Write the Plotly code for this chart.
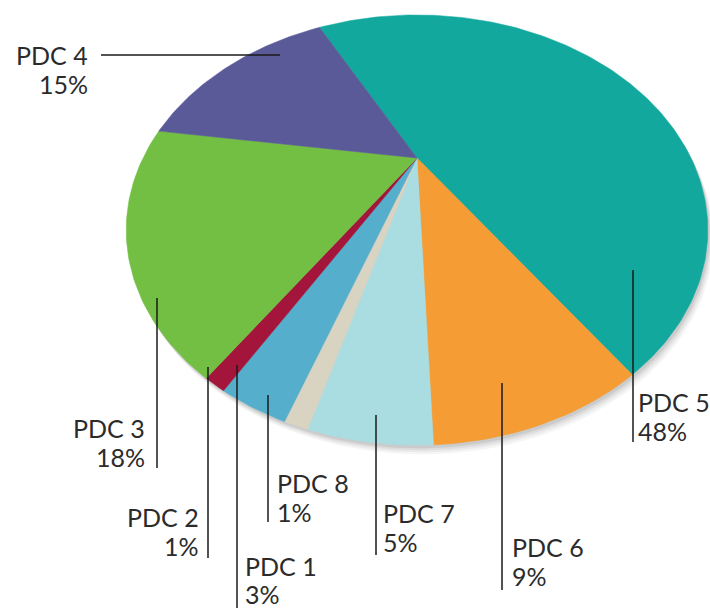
import numpy as np
import plotly.graph_objects as go

# --- data (clockwise order, starting at the PDC 4 / PDC 5 boundary) ---
NAMES = ['PDC 5', 'PDC 6', 'PDC 7', 'PDC 8', 'PDC 1', 'PDC 2', 'PDC 3', 'PDC 4']
SHARES = [48, 9, 5, 1, 3, 1, 18, 15]

COLORS = ['#13A89E', '#F59C34', '#A9DDE2', '#D9D4C2',
          '#55AECB', '#A3153A', '#72BF44', '#5B5A99']

# --- tilted-disc geometry (pixel space, y grows downward) ---
X0, Y0 = 417, 158      # apex of the pie
A, B, K = 274, 191, 0.335
START = -27.5          # angle on the disc where the first slice starts


def disc_to_screen(theta_deg, dx=0, dy=0):
    t = np.radians(theta_deg)
    w = 1 + K * np.cos(t)
    return X0 + dx + A * np.sin(t) / w, Y0 + dy - B * np.cos(t) / w


fig = go.Figure()

# soft shadow under the rim
ring = np.linspace(0, 360, 361)
for off, alpha in [(9, 0.05), (7, 0.06), (5, 0.08), (3, 0.10)]:
    sx, sy = disc_to_screen(ring, dx=off * 0.6, dy=off)
    fig.add_trace(go.Scatter(x=sx, y=sy, mode='lines', fill='toself',
                             fillcolor=f'rgba(60,60,60,{alpha})',
                             line=dict(width=0), hoverinfo='skip',
                             showlegend=False))

# slices
total = float(sum(SHARES))
angle = START
for name, share, color in zip(NAMES, SHARES, COLORS):
    span = share / total * 360.0
    th = np.linspace(angle, angle + span, max(int(span) + 2, 4))
    ax, ay = disc_to_screen(th)
    xs = np.concatenate([[X0], ax, [X0]])
    ys = np.concatenate([[Y0], ay, [Y0]])
    fig.add_trace(go.Scatter(x=xs, y=ys, mode='lines', fill='toself',
                             fillcolor=color, line=dict(color=color, width=0.5),
                             name=name, hoverinfo='name', showlegend=False))
    angle += span

# --- labels: (name, line x0, y0, x1, y1, text x, name y, pct y, anchor) ---
LABELS = [
    ('PDC 4', 101, 55, 280, 55, 89, 55, 84, 'right'),
    ('PDC 3', 157, 298, 157, 468, 146, 428, 457, 'right'),
    ('PDC 2', 208, 367, 208, 558, 200, 517, 546, 'right'),
    ('PDC 1', 237, 365, 237, 612, 244, 566, 594, 'left'),
    ('PDC 8', 268, 395, 268, 522, 276, 483, 512, 'left'),
    ('PDC 7', 376, 415, 376, 555, 382, 513, 542, 'left'),
    ('PDC 6', 502, 383, 502, 590, 511, 547, 576, 'left'),
    ('PDC 5', 633, 270, 633, 442, 637, 402, 431, 'left'),
]
pct = dict(zip(NAMES, SHARES))
font = dict(family='Lato, Roboto, sans-serif', size=25, color='#2b2b2b')

for name, lx0, ly0, lx1, ly1, tx, ny, py, anchor in LABELS:
    fig.add_shape(type='line', x0=lx0, y0=ly0, x1=lx1, y1=ly1,
                  xref='x', yref='y', line=dict(color='#1a1a1a', width=1.5))
    for txt, ty in [(name, ny), (f'{pct[name]}%', py)]:
        fig.add_annotation(x=tx, y=ty, text=txt, showarrow=False,
                           xanchor=anchor, align=anchor, yanchor='middle',
                           borderpad=0, font=font)

fig.update_xaxes(range=[0, 710], visible=False)
fig.update_yaxes(range=[608, 0], visible=False)
fig.update_layout(
    width=710, height=608,
    margin=dict(l=0, r=0, t=0, b=0),
    paper_bgcolor='white', plot_bgcolor='white',
    showlegend=False,
)

# drop the default 8px page margin so the figure fills the window exactly
fig.write_html("out.html",
               config={'displayModeBar': False},
               post_script="document.body.style.margin='0';"
                           "document.body.style.overflow='hidden';")
